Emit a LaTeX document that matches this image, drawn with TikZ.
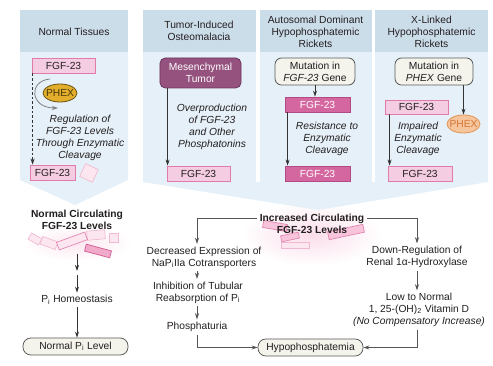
\documentclass[tikz,border=0pt]{standalone}
\usepackage{fontspec}
\setmainfont{Liberation Sans}
\usetikzlibrary{arrows.meta,shapes.geometric,calc}
\definecolor{hdr}{HTML}{CCDDEA}
\definecolor{bdy}{HTML}{E6F0F8}
\definecolor{txt}{HTML}{231F20}
\definecolor{pinkf}{HTML}{F5CDE2}
\definecolor{pinkd}{HTML}{E07BAA}
\definecolor{dpinkf}{HTML}{D4679F}
\definecolor{dpinkd}{HTML}{B24A83}
\definecolor{tumf}{HTML}{96527F}
\definecolor{tumd}{HTML}{6C3560}
\definecolor{mutf}{HTML}{F4F3EC}
\definecolor{mutd}{HTML}{5A5A5A}
\definecolor{goldf}{HTML}{E2AE2C}
\definecolor{goldd}{HTML}{6A5212}
\definecolor{orf}{HTML}{F6C59C}
\definecolor{ord}{HTML}{E19658}
\definecolor{ort}{HTML}{D2783A}
\definecolor{arrc}{HTML}{333333}
\definecolor{linec}{HTML}{555555}
\definecolor{palef}{HTML}{FCE7F0}
\definecolor{paled}{HTML}{EFB9D1}
\definecolor{fragf}{HTML}{F7C4DB}
\definecolor{fragd}{HTML}{E283B0}
\definecolor{barf}{HTML}{F2AACB}
\definecolor{bard}{HTML}{D66399}
\definecolor{glowc}{HTML}{FBDDEA}
\begin{document}
\begin{tikzpicture}[x=0.75pt,y=-0.75pt,
  font=\fontsize{7.7}{9}\selectfont, text=txt,
  arr/.style={-{Stealth[length=4.5pt,width=3pt]}, draw=arrc, line width=0.6pt},
  garr/.style={-{Stealth[length=4.5pt,width=3pt]}, draw=linec, line width=0.6pt},
  lbl/.style={align=center, inner sep=2pt},
  itl/.style={align=center, inner sep=1pt, font=\fontsize{7.7}{9}\selectfont\itshape},
  pbox/.style={draw=pinkd, fill=pinkf, line width=0.6pt, inner sep=0pt, minimum height=11.3pt},
  dbox/.style={draw=dpinkd, fill=dpinkf, text=white, line width=0.6pt, inner sep=0pt, minimum height=11.3pt},
  mbox/.style={draw=mutd, fill=mutf, line width=0.6pt, rounded corners=5pt, align=center, inner sep=0pt, minimum width=59pt, minimum height=20.3pt},
  rbox/.style={draw=mutd, fill=mutf, line width=0.6pt, rounded corners=6pt, inner sep=0pt, minimum width=78.8pt, minimum height=12.8pt},
  pale/.style={draw=paled, fill=palef, line width=0.5pt, inner sep=0pt},
  frag/.style={draw=fragd, fill=fragf, line width=0.5pt, inner sep=0pt},
  bar/.style={draw=bard, fill=barf, line width=0.6pt, inner sep=0pt}]
\useasboundingbox (0,0) rectangle (493,366);
\fill[white] (0,0) rectangle (493,366);
% glows
\shade[inner color=glowc, outer color=white] (312,234) ellipse (70 and 32);
\shade[inner color=palef, outer color=white] (77,243) ellipse (55 and 18);
% panels
\fill[bdy] (20,52) -- (128,52) -- (128,180) -- (75,205) -- (20,180) -- cycle;
\fill[hdr] (20,10) rectangle (128,52);
\fill[bdy] (143,52) -- (488,52) -- (488,182) -- (318,210) -- (143,182) -- cycle;
\fill[hdr] (143,10) rectangle (488,52);
\fill[white] (255.5,10) rectangle (259.5,182.5);
\fill[white] (371.5,10) rectangle (375,182.5);
% headers
\node[lbl] (h1) at (74,32) {Normal Tissues};
\node[lbl] (h2) at (199,31) {Tumor-Induced\\Osteomalacia};
\node[lbl] (h3) at (315.5,32) {Autosomal Dominant\\Hypophosphatemic\\Rickets};
\node[lbl] (h4) at (431.5,32) {X-Linked\\Hypophosphatemic\\Rickets};
% panel 1
\node[pbox, minimum width=47.3pt] (f1) at (63.5,65.5) {FGF-23};
\node[pbox, minimum width=33.8pt] (f1b) at (52.5,172.5) {FGF-23};
\node[pale, minimum width=10.5pt, minimum height=10.5pt, rotate=-25, draw=paled] (sq1) at (89,173) {};
\node[ellipse, draw=goldd, fill=goldf, line width=0.6pt, inner sep=0pt, minimum width=25.5pt, minimum height=13.5pt, label={[text=goldd!70!black]center:PHEX}] (phx1) at (60,93) {};
\coordinate (arcS) at (50,79);
\coordinate (arcE) at (58,108);
\draw[garr, draw=gray] (arcS) .. controls (28,81) and (30,108) .. (arcE);
\draw[arr, dashed, dash pattern=on 2pt off 1.5pt] ([xshift=0.75pt]f1.south west) -- ([xshift=2.25pt]f1b.north west);
\node[itl] (t1) at (80,138) {Regulation of\\FGF-23 Levels\\Through Enzymatic\\Cleavage};
% panel 2
\node[draw=tumd, fill=tumf, text=white, line width=0.6pt, rounded corners=4pt, align=center, inner sep=0pt, minimum width=60.8pt, minimum height=22.5pt] (tum) at (200.5,73) {Mesenchymal\\Tumor};
\node[pbox, minimum width=47.3pt] (f2) at (198.5,173.5) {FGF-23};
\draw[arr] ([xshift=6pt]tum.south west) -- ([xshift=0.75pt]f2.north west);
\node[itl] (t2) at (212,126.5) {Overproduction\\of FGF-23\\and Other\\Phosphatonins};
% panel 3
\node[mbox, minimum width=60pt] (m3) at (315,71.5) {Mutation in\\\textit{FGF-23} Gene};
\node[dbox, minimum width=48.8pt] (f3a) at (317.5,104.5) {FGF-23};
\node[dbox, minimum width=48.8pt] (f3b) at (317.5,173.5) {FGF-23};
\draw[arr] (m3.south) -- (m3.south |- f3a.north);
\draw[arr] ([xshift=2.25pt]f3a.south west) -- ([xshift=2.25pt]f3b.north west);
\node[itl] (t3) at (327,139) {Resistance to\\Enzymatic\\Cleavage};
% panel 4
\node[mbox, minimum width=58.5pt] (m4) at (434,71.5) {Mutation in\\\textit{PHEX} Gene};
\node[ellipse, draw=ord, fill=orf, line width=0.6pt, inner sep=0pt, minimum width=24.8pt, minimum height=13.5pt, label={[text=ort]center:PHEX}] (phx4) at (463.5,124) {};
\draw[arr] (phx4.north |- m4.south) -- (phx4.north);
\node[pbox, minimum width=47.3pt, minimum height=10.5pt] (f4a) at (416.5,107) {FGF-23};
\node[pbox, minimum width=48pt] (f4b) at (420,173.5) {FGF-23};
\draw[arr] ([xshift=3.75pt]f4a.south west) -- ([xshift=1.5pt]f4b.north west);
\node[itl] (t4) at (418,139) {Impaired\\Enzymatic\\Cleavage};
% bottom left
\node[pale, minimum width=9pt, minimum height=5.3pt, rotate=-30] (lfa) at (35,239) {};
\node[pale, minimum width=12pt, minimum height=6pt, rotate=-20] (lfb) at (49,243) {};
\node[pale, minimum width=13.5pt, minimum height=6.8pt, rotate=5] (lfd) at (96,235) {};
\node[pale, minimum width=6.8pt, minimum height=6.8pt] (lfe) at (114,238) {};
\node[frag, fill=palef, minimum width=22.5pt, minimum height=6pt, rotate=20] (lfc) at (72,241) {};
\node[bar, minimum width=19.5pt, minimum height=5.3pt, rotate=-15] (lff) at (98,251) {};
\node[lbl, font=\fontsize{7.7}{9}\selectfont\bfseries] (ncirc) at (77,219.5) {Normal Circulating\\FGF-23 Levels};
\coordinate (n1) at (77,254);
\coordinate (n2) at (77,271);
\draw[arr] (n1) -- (n2);
\node[lbl] (hom) at (77,300) {P\textsubscript{i} Homeostasis};
\draw[arr] ([yshift=-3pt]n2) -- (hom.north);
\node[rbox] (nlev) at (75.5,346.5) {Normal P\textsubscript{i} Level};
\draw[arr] (hom.south) -- (hom.south |- nlev.north);
% bottom middle fragments
\node[frag, minimum width=18pt, minimum height=5.3pt, rotate=-10] (mfa) at (275,226) {};
\node[frag, minimum width=13.5pt, minimum height=4.5pt, rotate=12] (mfb) at (290,237) {};
\node[pale, minimum width=21pt, minimum height=4.5pt] (mfc) at (295,245) {};
\node[frag, minimum width=27pt, minimum height=6pt, rotate=12] (mfd) at (346,232) {};
\node[lbl, font=\fontsize{7.7}{9}\selectfont\bfseries] (inc) at (312,224) {Increased Circulating\\FGF-23 Levels};
% left column
\node[lbl] (phos) at (197,327) {Phosphaturia};
\node[lbl] (dec) at (204,257.5) {Decreased Expression of\\NaP\textsubscript{i}IIa Cotransporters};
\node[lbl] (inh) at (198,292.5) {Inhibition of Tubular\\Reabsorption of P\textsubscript{i}};
\draw[garr] ([yshift=4.5pt]inc.west) -| (phos |- dec.north);
\draw[garr] (phos |- dec.south) -- (phos |- inh.north);
\draw[garr] (phos |- inh.south) -- (phos.north);
\node[rbox] (hyp) at (310.5,347.5) {Hypophosphatemia};
\draw[garr] (phos.south) |- (hyp.west);
% right column
\node[lbl] (down) at (417,257) {Down-Regulation of\\Renal 1α-Hydroxylase};
\node[lbl] (low) at (419,310) {Low to Normal\\1, 25-(OH)\textsubscript{2} Vitamin D\\\textit{(No Compensatory Increase)}};
\draw[garr] ([yshift=4.5pt]inc.east) -| (down.north);
\draw[garr] (down.south) -- (down.south |- low.north);
\draw[garr] (down.south |- low.south) |- (hyp.east);
\end{tikzpicture}
\end{document}
